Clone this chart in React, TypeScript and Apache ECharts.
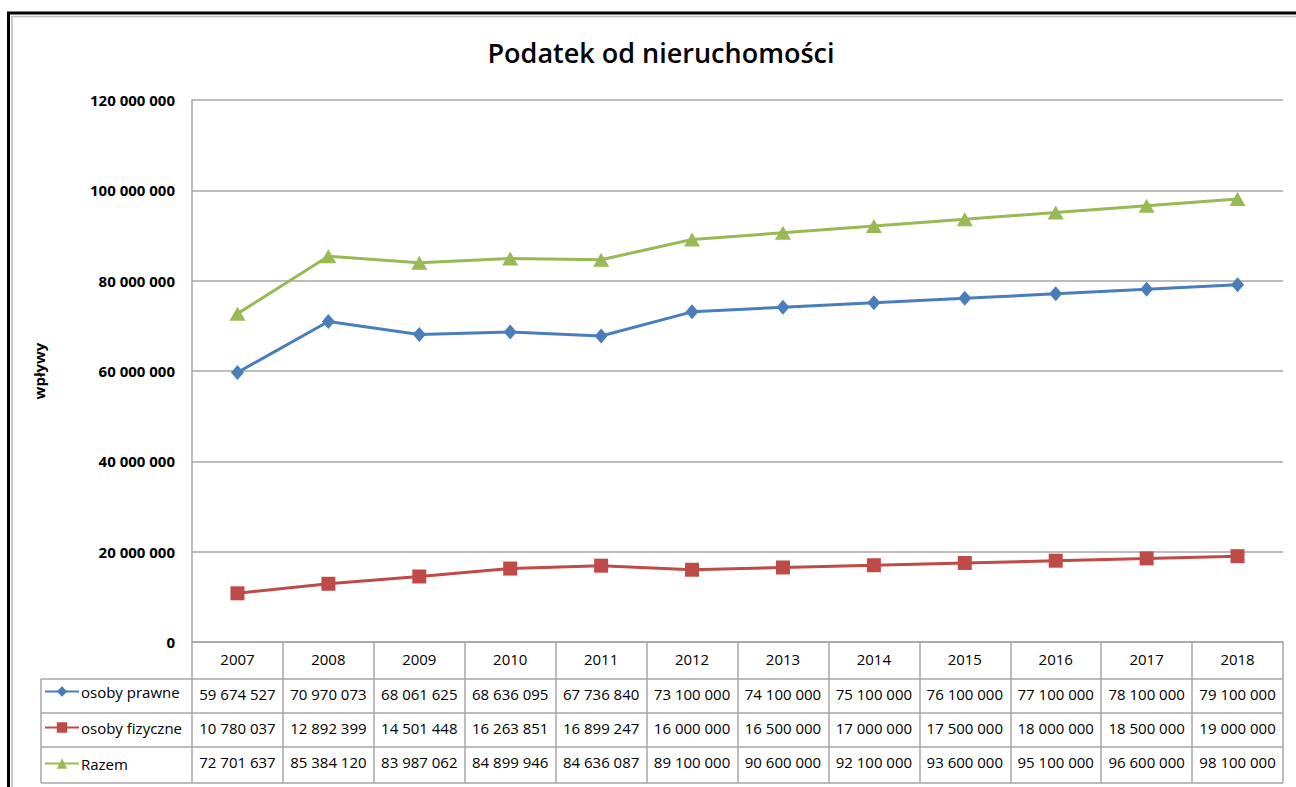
import React, { useEffect, useRef } from "react";
import * as echarts from "echarts";

const years = ["2007", "2008", "2009", "2010", "2011", "2012", "2013", "2014", "2015", "2016", "2017", "2018"];
const osobyPrawne = [59674527, 70970073, 68061625, 68636095, 67736840, 73100000, 74100000, 75100000, 76100000, 77100000, 78100000, 79100000];
const osobyFizyczne = [10780037, 12892399, 14501448, 16263851, 16899247, 16000000, 16500000, 17000000, 17500000, 18000000, 18500000, 19000000];
const razem = [72701637, 85384120, 83987062, 84899946, 84636087, 89100000, 90600000, 92100000, 93600000, 95100000, 96600000, 98100000];
const seriesNames = ["osoby prawne", "osoby fizyczne", "Razem"];
const yMin = 0;
const yMax = 120000000;
const yStep = 20000000;
const titleText = "Podatek od nieruchomości";
const yName = "wpływy";

const fmt = (n: number) => String(n).replace(/\B(?=(\d{3})+(?!\d))/g, " ");

const FONT = "Open Sans";
const GRID_L = 192, GRID_T = 100, GRID_R = 1283, GRID_B = 642;
const TABLE_L = 41;
const ROW_LINES = [679, 713, 747, 783];
const GRAY = "#A6A6A6";

export default function App() {
  const ref = useRef<HTMLDivElement>(null);
  useEffect(() => {
    if (!ref.current) return;
    const chart = echarts.init(ref.current, undefined, { renderer: "svg" });
    const colors = ["#4A7EBB", "#BE4B48", "#98B954"];
    const datasets = [osobyPrawne, osobyFizyczne, razem];
    const symbols = ["diamond", "rect", "triangle"];
    const symSizes = [[13, 15], 14, [16, 14]];
    const rowOffsets = [35, 69, 103];

    const tableAxes = datasets.map((d, i) => ({
      type: "category",
      gridIndex: 0,
      position: "bottom",
      offset: rowOffsets[i],
      data: d.map(fmt),
      boundaryGap: true,
      axisLine: { show: false },
      axisTick: { show: false },
      splitLine: { show: false },
      axisLabel: { interval: 0, margin: 9, color: "#000", fontFamily: FONT, fontSize: 15, fontWeight: 500 },
    }));

    const lines: any[] = ROW_LINES.map((y) => ({
      type: "line",
      silent: true,
      shape: { x1: TABLE_L, y1: y, x2: GRID_R, y2: y },
      style: { stroke: GRAY, lineWidth: 1.5 },
    }));
    lines.push({
      type: "line",
      silent: true,
      shape: { x1: TABLE_L, y1: ROW_LINES[0], x2: TABLE_L, y2: ROW_LINES[ROW_LINES.length - 1] },
      style: { stroke: GRAY, lineWidth: 1.5 },
    });

    chart.setOption({
      animation: false,
      backgroundColor: "#fff",
      title: {
        text: titleText,
        left: 656,
        top: 34,
        textAlign: "center",
        textStyle: { fontFamily: FONT, fontSize: 27, fontWeight: 600, color: "#000" },
      },
      legend: {
        orient: "vertical",
        left: 44,
        top: 684,
        padding: 0,
        itemGap: 21,
        itemWidth: 34,
        itemHeight: 13,
        data: seriesNames,
        textStyle: {
          fontFamily: FONT,
          fontSize: 15,
          fontWeight: 500,
          color: "#000",
          lineHeight: 13,
          padding: [0, 0, 0, -3],
        },
      },
      grid: { left: GRID_L, top: GRID_T, width: GRID_R - GRID_L, height: GRID_B - GRID_T, containLabel: false },
      xAxis: [
        {
          type: "category",
          data: years,
          boundaryGap: true,
          axisLine: { show: true, lineStyle: { color: GRAY, width: 1.5 } },
          axisTick: { show: true, interval: 0, length: 141, lineStyle: { color: GRAY, width: 1.5 } },
          axisLabel: { interval: 0, margin: 9, color: "#000", fontFamily: FONT, fontSize: 15, fontWeight: 500 },
        },
        ...tableAxes,
      ],
      yAxis: {
        type: "value",
        min: yMin,
        max: yMax,
        interval: yStep,
        name: yName,
        nameLocation: "middle",
        nameRotate: 90,
        nameGap: 146,
        nameTextStyle: { fontFamily: FONT, fontSize: 15, fontWeight: "bold", color: "#000" },
        axisLine: { show: true, lineStyle: { color: GRAY, width: 1.5 } },
        axisTick: { show: false },
        splitLine: { show: true, lineStyle: { color: GRAY, width: 1.5 } },
        axisLabel: {
          margin: 17,
          color: "#000",
          fontFamily: FONT,
          fontSize: 15,
          fontWeight: "bold",
          formatter: (v: number) => fmt(v),
        },
      },
      series: datasets.map((d, i) => ({
        name: seriesNames[i],
        type: "line",
        xAxisIndex: 0,
        data: d,
        symbol: symbols[i],
        symbolSize: symSizes[i],
        showSymbol: true,
        color: colors[i],
        lineStyle: { width: 3, color: colors[i] },
        itemStyle: { color: colors[i] },
      })),
      graphic: [
        ...lines,
        {
          type: "rect",
          silent: true,
          shape: { x: 8.5, y: 13, width: 1400, height: 900 },
          style: { fill: "none", stroke: "#000", lineWidth: 3 },
        },
        {
          type: "rect",
          silent: true,
          shape: { x: 12, y: 16.5, width: 1400, height: 900 },
          style: { fill: "none", stroke: "#BBBBBB", lineWidth: 1.5 },
        },
      ],
    });
    return () => chart.dispose();
  }, []);
  return <div ref={ref} style={{ position: "absolute", left: 0, top: 0, width: 1296, height: 787 }} />;
}
